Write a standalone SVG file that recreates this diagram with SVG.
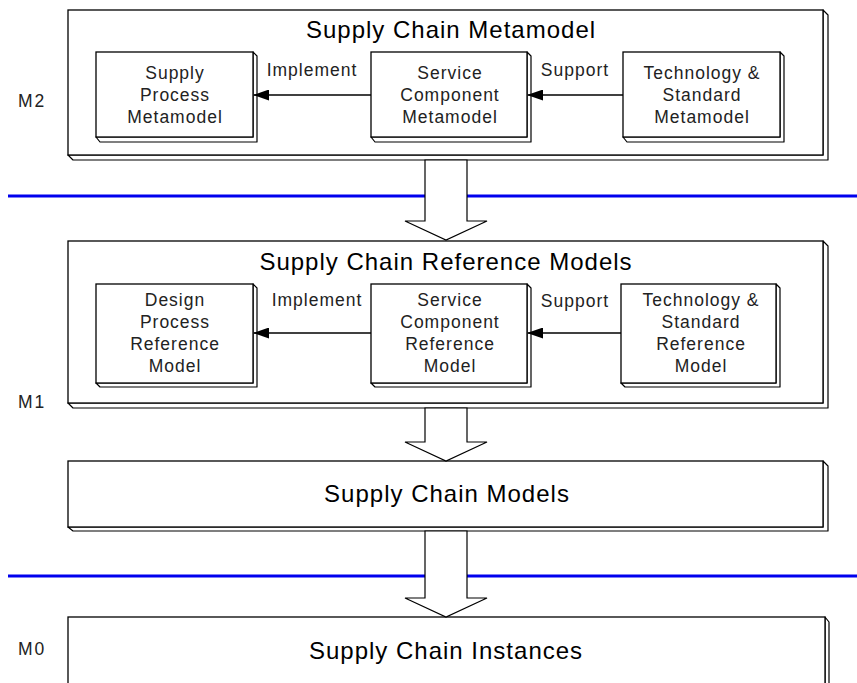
<svg xmlns="http://www.w3.org/2000/svg" width="857" height="683" viewBox="0 0 857 683">
<defs>
<style>
.face{fill:#fff;stroke:#000;stroke-width:1.3}
.ext{fill:#fff;stroke:#000;stroke-width:1.2;stroke-linejoin:round}
.title{font-family:"Liberation Sans",Arial,sans-serif;font-size:24px;letter-spacing:1px;fill:#000;text-anchor:middle}
.lbl{font-family:"Liberation Sans",Arial,sans-serif;font-size:17.5px;letter-spacing:1px;fill:#222;text-anchor:middle}
.side{font-family:"Liberation Sans",Arial,sans-serif;font-size:17.5px;letter-spacing:2px;fill:#222}
.conn{stroke:#000;stroke-width:1.6;fill:none}
.hollow{fill:#fff;stroke:#000;stroke-width:1.2}
.level{stroke:#0000ee;stroke-width:3}
</style>
<marker id="ah" markerWidth="16" markerHeight="11" refX="15" refY="5.5" orient="auto" markerUnits="userSpaceOnUse">
<path d="M0,0 L16,5.5 L0,11 Z" fill="#000"/>
</marker>
</defs>

<g id="levels">
<line class="level" x1="8" y1="196" x2="857" y2="196"/>
<line class="level" x1="8" y1="576" x2="857" y2="576"/>
<text class="side" x="18" y="107">M2</text>
<text class="side" x="18" y="408">M1</text>
<text class="side" x="18" y="655">M0</text>
</g>

<g id="metamodel">
<polygon class="ext" points="823,10 828,15 828,160 73,160 68,155 823,155"/>
<rect class="face" x="68" y="10" width="755" height="145"/>
<text class="title" x="451" y="38">Supply Chain Metamodel</text>
</g>
<g id="supply-process-metamodel">
<polygon class="ext" points="253,52 257,56 257,142 100,142 96,137 253,137"/>
<rect class="face" x="96" y="52" width="157" height="85"/>
<text class="lbl" x="175" y="79">Supply</text>
<text class="lbl" x="175" y="101">Process</text>
<text class="lbl" x="175" y="123">Metamodel</text>
</g>
<g id="service-component-metamodel">
<polygon class="ext" points="527,52 531,56 531,142 375,142 371,137 527,137"/>
<rect class="face" x="371" y="52" width="156" height="85"/>
<text class="lbl" x="450" y="79">Service</text>
<text class="lbl" x="450" y="101">Component</text>
<text class="lbl" x="450" y="123">Metamodel</text>
</g>
<g id="technology-standard-metamodel">
<polygon class="ext" points="780,52 784,56 784,142 627,142 623,137 780,137"/>
<rect class="face" x="623" y="52" width="157" height="85"/>
<text class="lbl" x="702" y="79">Technology &amp;</text>
<text class="lbl" x="702" y="101">Standard</text>
<text class="lbl" x="702" y="123">Metamodel</text>
</g>

<g id="reference-models">
<polygon class="ext" points="823,241 828,246 828,408 73,408 68,403 823,403"/>
<rect class="face" x="68" y="241" width="755" height="162"/>
<text class="title" x="446" y="270">Supply Chain Reference Models</text>
</g>
<g id="design-process-reference-model">
<polygon class="ext" points="253,284 257,288 257,387 100,387 96,383 253,383"/>
<rect class="face" x="96" y="284" width="157" height="99"/>
<text class="lbl" x="175" y="306">Design</text>
<text class="lbl" x="175" y="328">Process</text>
<text class="lbl" x="175" y="350">Reference</text>
<text class="lbl" x="175" y="372">Model</text>
</g>
<g id="service-component-reference-model">
<polygon class="ext" points="527,284 531,288 531,387 375,387 371,383 527,383"/>
<rect class="face" x="371" y="284" width="156" height="99"/>
<text class="lbl" x="450" y="306">Service</text>
<text class="lbl" x="450" y="328">Component</text>
<text class="lbl" x="450" y="350">Reference</text>
<text class="lbl" x="450" y="372">Model</text>
</g>
<g id="technology-standard-reference-model">
<polygon class="ext" points="776,284 780,288 780,387 625,387 621,383 776,383"/>
<rect class="face" x="621" y="284" width="155" height="99"/>
<text class="lbl" x="701" y="306">Technology &amp;</text>
<text class="lbl" x="701" y="328">Standard</text>
<text class="lbl" x="701" y="350">Reference</text>
<text class="lbl" x="701" y="372">Model</text>
</g>

<g id="supply-chain-models">
<polygon class="ext" points="823,461 828,466 828,531 73,531 68,527 823,527"/>
<rect class="face" x="68" y="461" width="755" height="66"/>
<text class="title" x="447" y="502">Supply Chain Models</text>
</g>

<g id="supply-chain-instances">
<polygon class="ext" points="825,617 829,622 829,690 68,690 68,690 825,690"/>
<rect class="face" x="68" y="617" width="757" height="80"/>
<text class="title" x="446" y="659">Supply Chain Instances</text>
</g>

<g id="connectors">
<line class="conn" x1="371" y1="95" x2="254" y2="95" marker-end="url(#ah)"/>
<line class="conn" x1="623" y1="95" x2="528" y2="95" marker-end="url(#ah)"/>
<text class="lbl" x="312" y="76">Implement</text>
<text class="lbl" x="575" y="76">Support</text>
<line class="conn" x1="371" y1="333" x2="254" y2="333" marker-end="url(#ah)"/>
<line class="conn" x1="621" y1="333" x2="528" y2="333" marker-end="url(#ah)"/>
<text class="lbl" x="317" y="306">Implement</text>
<text class="lbl" x="575" y="307">Support</text>
<polygon class="hollow" points="425,160 467,160 467,221 487,221 446,240 405,221 425,221"/>
<polygon class="hollow" points="425,408 467,408 467,442 487,442 446,461 405,442 425,442"/>
<polygon class="hollow" points="425,531 467,531 467,598 487,598 446,617 405,598 425,598"/>
</g>
</svg>
